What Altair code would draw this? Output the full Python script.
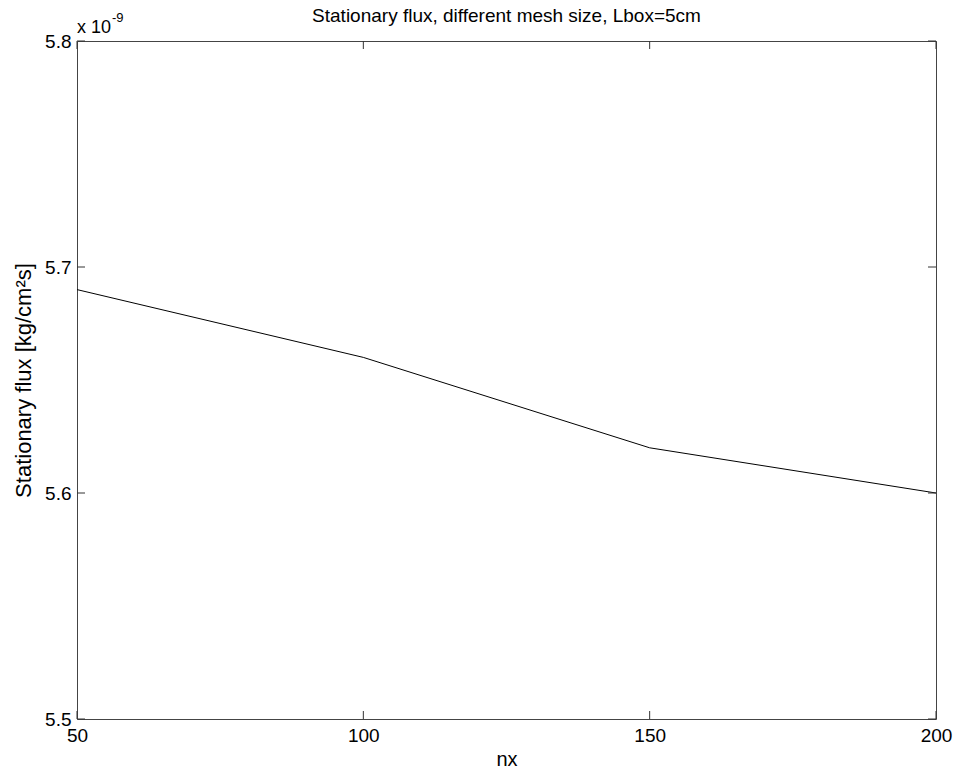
import altair as alt
import pandas as pd

nx = [50, 100, 150, 200]
flux = [5.69, 5.66, 5.62, 5.60]  # in units of 1e-9 kg/cm^2 s
x_ticks = [50, 100, 150, 200]
y_ticks = [5.5, 5.6, 5.7, 5.8]

W, H = 859, 678
FONT = "Liberation Sans"
TL = 8

df = pd.DataFrame({"nx": nx, "flux": flux})
xt = pd.DataFrame({"v": x_ticks})
yt = pd.DataFrame({"v": y_ticks})

xscale = alt.Scale(domain=[50, 200], nice=False, zero=False)
yscale = alt.Scale(domain=[5.5, 5.8], nice=False, zero=False)

line = alt.Chart(df).mark_line(color="black", strokeWidth=1).encode(
    x=alt.X("nx:Q", scale=xscale,
            axis=alt.Axis(values=x_ticks, ticks=False, domain=False, grid=False,
                          title="nx", titleFont=FONT, titleFontSize=20,
                          titleFontWeight="normal", titleColor="black", titlePadding=4,
                          labelFont=FONT, labelFontSize=19, labelColor="black",
                          labelPadding=7, labelFlush=False)),
    y=alt.Y("flux:Q", scale=yscale,
            axis=alt.Axis(values=y_ticks, ticks=False, domain=False, grid=False,
                          format=".1f",
                          title="Stationary flux [kg/cm²s]", titleFont=FONT,
                          titleFontSize=22, titleFontWeight="normal",
                          titleColor="black", titlePadding=9,
                          labelFont=FONT, labelFontSize=19, labelColor="black",
                          labelPadding=6)),
)

tick_color = "#333"
yl = alt.Chart(yt).mark_rule(color=tick_color).encode(
    y=alt.Y("v:Q", scale=yscale), x=alt.value(0), x2=alt.value(TL))
yr = alt.Chart(yt).mark_rule(color=tick_color).encode(
    y=alt.Y("v:Q", scale=yscale), x=alt.value(W - TL), x2=alt.value(W))
xb = alt.Chart(xt).mark_rule(color=tick_color).encode(
    x=alt.X("v:Q", scale=xscale), y=alt.value(H), y2=alt.value(H - TL))
xtop = alt.Chart(xt).mark_rule(color=tick_color).encode(
    x=alt.X("v:Q", scale=xscale), y=alt.value(0), y2=alt.value(TL))

exp_base = alt.Chart(pd.DataFrame({"t": ["x 10"]})).mark_text(
    font=FONT, fontSize=18, align="left", baseline="alphabetic", color="black"
).encode(text="t:N", x=alt.value(0), y=alt.value(-8))
exp_sup = alt.Chart(pd.DataFrame({"t": ["-9"]})).mark_text(
    font=FONT, fontSize=13, align="left", baseline="alphabetic", color="black"
).encode(text="t:N", x=alt.value(35), y=alt.value(-19))

title = alt.Chart(pd.DataFrame({"t": ["Stationary flux, different mesh size, Lbox=5cm"]})).mark_text(
    font=FONT, fontSize=19, align="center", baseline="alphabetic", color="black"
).encode(text="t:N", x=alt.value(W / 2), y=alt.value(-19))

chart = alt.layer(line, yl, yr, xb, xtop, exp_base, exp_sup, title).properties(
    width=W, height=H,
    background="white",
    autosize=alt.AutoSizeParams(type="none"),
    padding={"left": 77, "top": 41, "right": 18, "bottom": 50},
).configure_view(stroke="#444", strokeWidth=1)

chart.save("out.html", embed_options={"renderer": "svg", "actions": False})
